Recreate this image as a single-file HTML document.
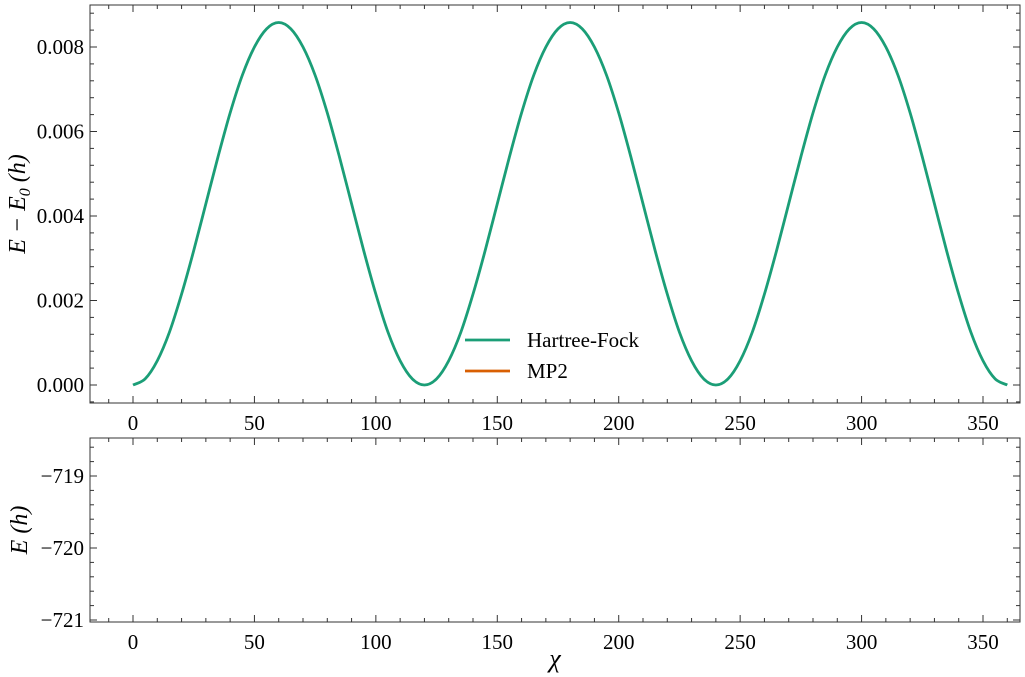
<!DOCTYPE html>
<html><head><meta charset="utf-8"><style>
body{margin:0;background:#fff}
svg{display:block;font-family:"Liberation Serif",serif}
</style></head><body>
<svg id="c" width="1025" height="677"></svg>
<script>
const chiValues = [];
for (let i = 0; i <= 72; i++) chiValues.push(i * 5);
const hartreeFockValues = [
0,0.000146,0.000575,0.00125,0.00215,0.00318,0.00429,0.0054,0.00644,0.00733,0.008,0.00843,0.00858,
0.00843,0.008,0.00733,0.00644,0.0054,0.00429,0.00318,0.00215,0.00125,0.000575,0.000146,
0,0.000146,0.000575,0.00125,0.00215,0.00318,0.00429,0.0054,0.00644,0.00733,0.008,0.00843,0.00858,
0.00843,0.008,0.00733,0.00644,0.0054,0.00429,0.00318,0.00215,0.00125,0.000575,0.000146,
0,0.000146,0.000575,0.00125,0.00215,0.00318,0.00429,0.0054,0.00644,0.00733,0.008,0.00843,0.00858,
0.00843,0.008,0.00733,0.00644,0.0054,0.00429,0.00318,0.00215,0.00125,0.000575,0.000146,0];
const xTicks = [0,50,100,150,200,250,300,350];
const topYTicks = [0,0.002,0.004,0.006,0.008];
const topYLabels = ["0.000","0.002","0.004","0.006","0.008"];
const botYTicks = [-719,-720,-721];
const botYLabels = ["\u2212719","\u2212720","\u2212721"];
const seriesNames = ["Hartree-Fock","MP2"];
const seriesColors = ["#1b9e77","#d95f02"];

const NS="http://www.w3.org/2000/svg";
const svg=document.getElementById('c');
function el(t,a,p){const e=document.createElementNS(NS,t);for(const k in a)e.setAttribute(k,a[k]);(p||svg).appendChild(e);return e;}
const L=90,R=1020;
const xs=v=>133+(v-0)*(983-133)/350;
const T={top:5,bot:403,y:v=>385+(v-0)*(47-385)/0.008};
const B={top:438,bot:622,y:v=>476+(v+719)*(548-476)/(-1)};

function axes(P,yt,yl,yMinorStep,yMin,yMax,name){
  const g=el('g',{});
  
  
  el('rect',{x:L,y:P.top,width:R-L,height:P.bot-P.top,fill:'none',stroke:'#333','stroke-width':1},g);
  for(let v=-10;v<=370;v+=10){const x=xs(v);if(x<L||x>R)continue;const maj=v%50===0;const len=maj?7:4;
    el('line',{x1:x,x2:x,y1:P.bot,y2:P.bot-len,stroke:'#333'},g);el('line',{x1:x,x2:x,y1:P.top,y2:P.top+len,stroke:'#333'},g);}
  const n=Math.round((yMax-yMin)/yMinorStep);
  for(let i=0;i<=n;i++){const v=yMin+i*yMinorStep;const y=P.y(v);if(y<P.top+1||y>P.bot-1)continue;
    el('line',{x1:L,x2:L+4,y1:y,y2:y,stroke:'#333'},g);el('line',{x1:R,x2:R-4,y1:y,y2:y,stroke:'#333'},g);}
  yt.forEach((v,i)=>{const y=P.y(v);
    el('line',{x1:L,x2:L+7,y1:y,y2:y,stroke:'#333'},g);el('line',{x1:R,x2:R-7,y1:y,y2:y,stroke:'#333'},g);
    const t=el('text',{x:L-6,y:y+7,'text-anchor':'end','font-size':21},g);t.textContent=yl[i];
    });
  xTicks.forEach(v=>{const t=el('text',{x:xs(v),y:P.bot+27,'text-anchor':'middle','font-size':21},g);t.textContent=v;
    });
}
axes(T,topYTicks,topYLabels,0.0004,-0.0004,0.0088,'top-axes');
axes(B,botYTicks,botYLabels,0.2,-721,-718.6,'bottom-axes');

const pts=chiValues.map((c,i)=>[xs(c),T.y(hartreeFockValues[i])]);
let d='M'+pts[0][0]+','+pts[0][1];
for(let i=0;i<pts.length-1;i++){
  const p0=pts[Math.max(0,i-1)],p1=pts[i],p2=pts[i+1],p3=pts[Math.min(pts.length-1,i+2)];
  const c1=[p1[0]+(p2[0]-p0[0])/6,p1[1]+(p2[1]-p0[1])/6];
  const c2=[p2[0]-(p3[0]-p1[0])/6,p2[1]-(p3[1]-p1[1])/6];
  d+='C'+c1[0].toFixed(2)+','+c1[1].toFixed(2)+' '+c2[0].toFixed(2)+','+c2[1].toFixed(2)+' '+p2[0].toFixed(2)+','+p2[1].toFixed(2);
}
const line=el('path',{d:d,fill:'none',stroke:seriesColors[0],'stroke-width':2.8,'stroke-linejoin':'round'});



seriesNames.forEach((n,i)=>{const y=340+i*31;
  const l=el('line',{x1:465,x2:510,y1:y,y2:y,stroke:seriesColors[i],'stroke-width':2.8});
  
  const t=el('text',{x:527,y:y+7,'font-size':21});t.textContent=n;
  });

const yl1=el('text',{transform:'translate(25,204) rotate(-90)','text-anchor':'middle','font-size':24,'font-style':'italic'});
yl1.innerHTML='E \u2212 E<tspan font-size="16" dy="5">0</tspan><tspan dy="-5"> (h)</tspan>';

const yl2=el('text',{transform:'translate(27,530) rotate(-90)','text-anchor':'middle','font-size':24,'font-style':'italic'});
yl2.textContent='E (h)';

const xl=el('text',{x:555,y:667,'text-anchor':'middle','font-size':26,'font-style':'italic'});
xl.textContent='\u03c7';

</script>
</body></html>
